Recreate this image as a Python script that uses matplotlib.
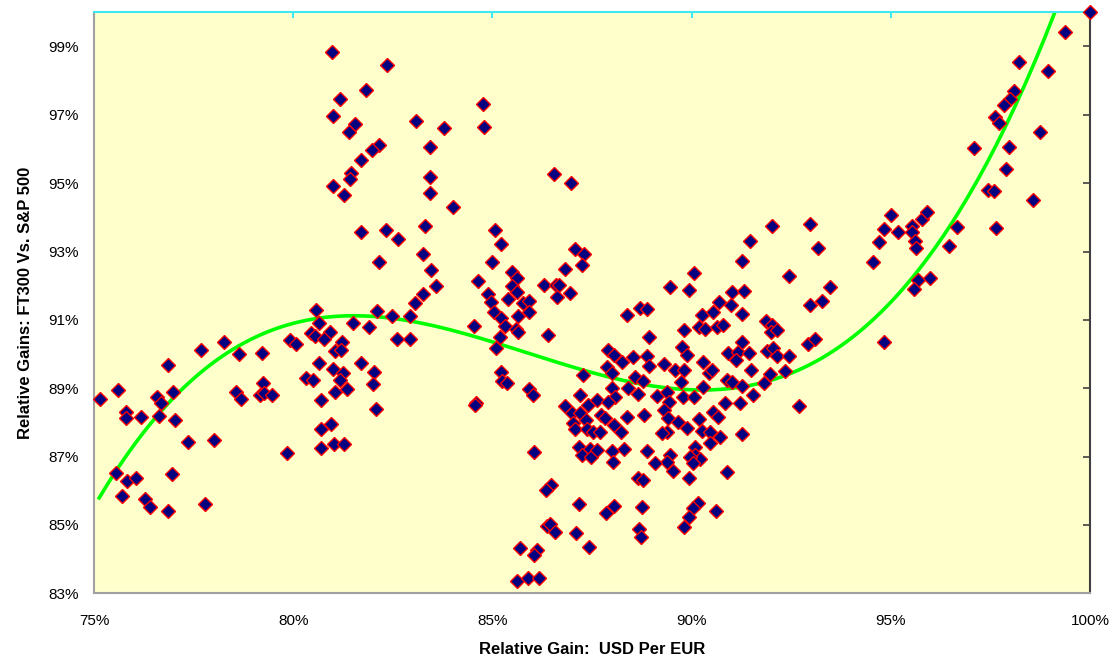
import numpy as np
import matplotlib
matplotlib.use('Agg')
import matplotlib.pyplot as plt
from matplotlib.ticker import FuncFormatter

plt.rcParams['font.family'] = ['Liberation Sans', 'DejaVu Sans']

# --------------------------------------------------------------------------
# Datos (en %)
# --------------------------------------------------------------------------

# Ganancia relativa USD por EUR (eje X)
usd_eur = [
    80.97, 81.00, 81.00,
    81.18, 82.35, 81.83, 81.55, 81.40, 83.08, 83.78, 84.76, 84.79, 82.15, 81.98,
    83.43, 81.70, 81.45, 81.43, 81.28, 83.43, 83.43, 84.01, 86.55, 86.97, 81.70,
    82.33, 82.63, 83.31, 82.15, 83.26, 83.46, 83.58, 83.26, 83.06, 85.07, 85.22,
    84.99, 84.64, 84.89, 84.96, 85.49, 85.62, 85.49, 85.62, 85.39, 85.77, 85.92,
    86.30, 86.60, 86.67, 86.62, 86.95, 86.82, 87.07, 87.30, 87.25,
    92.02, 92.97, 91.47, 93.17, 91.27, 92.45, 90.06, 89.46, 89.93, 91.01, 91.32,
    93.47,
    100.0, 99.37, 98.22, 98.95, 98.09, 97.99, 97.84, 97.62, 97.72, 98.75, 97.09,
    97.97, 97.89, 97.44, 97.59, 98.57, 95.00, 94.83, 95.18, 94.70, 95.53, 95.53,
    95.61, 95.63, 95.78, 95.91, 96.66, 97.64, 96.46, 94.55, 95.68, 95.58, 95.98,
    94.83,
    80.57, 80.65, 80.45, 80.55, 80.92, 80.77, 81.22, 81.05, 81.20, 78.26, 77.69,
    78.64, 79.22, 79.92, 80.07, 76.86, 80.65, 81.00, 81.25, 81.17, 80.32, 80.50,
    75.15, 75.60, 76.58, 76.68, 76.98, 75.80, 75.80, 76.18, 76.63, 77.03, 78.56,
    78.69, 79.24, 79.17, 79.27, 79.47, 80.70, 81.05, 77.36, 78.01, 79.84, 80.70,
    80.95, 80.70, 81.02, 81.27, 75.55, 75.83, 76.05, 76.96, 75.70, 76.28, 76.41,
    76.86, 77.79,
    82.10, 82.48, 82.93, 81.90, 81.50, 82.61, 82.93, 81.70, 82.03, 82.00, 81.35,
    82.08, 84.54, 85.04, 85.92, 85.64, 85.22, 85.32, 85.59, 85.64, 86.40, 85.19,
    85.09, 85.22, 85.24, 85.37, 85.92, 86.02, 84.59, 84.56, 87.27, 87.20, 87.40,
    86.82, 87.00, 87.20, 87.35, 87.02, 87.07, 87.37, 87.52, 87.17, 87.45, 87.25,
    87.47, 86.04, 86.47, 86.35, 87.17, 86.37, 86.45, 86.57, 87.10, 87.42, 85.69,
    86.12, 86.04, 85.62, 85.89, 86.17,
    88.38, 88.70, 88.88, 88.93, 89.81, 90.26, 90.19, 90.34, 90.54, 90.69, 90.99,
    91.27, 90.64, 90.79, 91.87, 92.02, 91.99, 92.14, 92.97, 93.27, 92.92, 93.10,
    87.90, 88.05, 88.25, 88.53, 88.88, 88.93, 89.31, 89.76, 89.88, 89.58, 89.81,
    90.29, 90.44, 90.51, 90.91, 91.16, 91.27, 91.44, 91.11, 91.89, 92.04, 92.14,
    92.44, 91.49, 91.97, 92.34, 87.88, 88.00, 88.58, 88.78, 88.40, 88.65, 89.13,
    89.38, 89.73, 89.78, 90.06, 90.29, 90.89, 91.01, 91.27, 91.54, 91.82, 88.00,
    88.08, 87.63, 87.90, 89.43, 89.31, 88.80, 88.38, 89.41, 87.73, 87.83, 88.05,
    88.23, 87.70, 89.66, 89.88, 90.19, 90.54, 90.66, 90.26, 90.46, 89.38, 89.26,
    90.84, 91.21, 90.71, 90.46, 91.27, 92.70, 90.09, 90.09, 90.21, 89.96, 88.88,
    88.30, 88.00, 88.03, 87.63, 89.46, 89.38, 89.08, 89.53, 90.04, 90.89, 89.93,
    88.65, 88.78, 88.05, 87.85, 88.75, 90.16, 90.04, 89.93, 89.81, 90.61, 88.68,
    88.73,
]

# Ganancia relativa FT300 vs S&P 500 (eje Y)
ft300_sp500 = [
    98.85, 96.97, 94.91,
    97.47, 98.47, 97.74, 96.74, 96.50, 96.82, 96.62, 97.32, 96.64, 96.12, 95.97,
    96.06, 95.68, 95.29, 95.12, 94.65, 95.18, 94.71, 94.30, 95.26, 95.00, 93.56,
    93.64, 93.38, 93.76, 92.70, 92.93, 92.47, 92.00, 91.76, 91.50, 93.64, 93.23,
    92.70, 92.15, 91.76, 91.53, 92.41, 92.23, 92.00, 91.82, 91.62, 91.50, 91.56,
    92.03, 92.03, 92.03, 91.68, 91.79, 92.50, 93.06, 92.94, 92.62,
    93.75, 93.81, 93.31, 93.09, 92.73, 92.29, 92.37, 91.96, 91.87, 91.82, 91.85,
    91.97,
    100.0, 99.41, 98.55, 98.28, 97.70, 97.47, 97.30, 96.94, 96.77, 96.50, 96.03,
    96.06, 95.41, 94.80, 94.77, 94.50, 94.06, 93.65, 93.56, 93.27, 93.74, 93.56,
    93.30, 93.10, 93.95, 94.16, 93.72, 93.69, 93.16, 92.69, 92.16, 91.90, 92.22,
    90.36,
    91.29, 90.91, 90.62, 90.53, 90.65, 90.44, 90.35, 90.09, 90.12, 90.35, 90.12,
    90.00, 90.03, 90.41, 90.29, 89.68, 89.74, 89.56, 89.44, 89.24, 89.30, 89.24,
    88.69, 88.95, 88.74, 88.56, 88.89, 88.30, 88.12, 88.15, 88.20, 88.06, 88.89,
    88.68, 89.15, 88.80, 88.86, 88.80, 88.66, 88.89, 87.43, 87.49, 87.11, 87.81,
    87.96, 87.25, 87.37, 87.37, 86.52, 86.29, 86.37, 86.49, 85.85, 85.76, 85.53,
    85.41, 85.62,
    91.26, 91.12, 91.12, 90.80, 90.92, 90.45, 90.45, 89.74, 89.47, 89.12, 88.98,
    88.39, 90.83, 91.23, 91.23, 91.12, 91.06, 90.83, 90.74, 90.65, 90.56, 90.50,
    90.18, 89.48, 89.21, 89.15, 88.98, 88.80, 88.57, 88.51, 89.39, 88.80, 88.51,
    88.48, 88.27, 88.27, 88.07, 87.98, 87.80, 87.80, 87.72, 87.28, 87.22, 87.05,
    86.99, 87.13, 86.17, 86.02, 85.61, 84.97, 85.03, 84.80, 84.77, 84.36, 84.33,
    84.27, 84.12, 83.36, 83.45, 83.45,
    91.14, 91.35, 91.32, 90.50, 90.70, 91.14, 90.79, 90.74, 91.23, 91.53, 91.44,
    91.17, 90.79, 90.85, 90.97, 90.85, 90.65, 90.71, 91.44, 91.56, 90.30, 90.44,
    90.12, 89.98, 89.77, 89.92, 89.95, 89.65, 89.71, 90.21, 89.98, 89.53, 89.53,
    89.77, 89.45, 89.53, 90.03, 90.06, 90.35, 90.03, 89.83, 90.09, 90.18, 89.94,
    89.94, 89.53, 89.42, 89.50, 89.62, 89.45, 89.33, 89.21, 89.00, 88.83, 88.77,
    88.89, 89.18, 88.74, 88.74, 89.04, 89.24, 89.18, 89.07, 88.80, 89.15, 89.00,
    88.74, 88.66, 88.60, 88.60, 88.36, 88.21, 88.16, 88.13, 88.21, 88.13, 87.92,
    87.72, 87.72, 88.02, 87.84, 88.10, 88.31, 88.16, 87.75, 87.72, 87.72, 87.70,
    88.57, 88.57, 87.57, 87.40, 87.66, 88.48, 87.28, 87.05, 86.93, 86.99, 87.16,
    87.22, 87.16, 86.84, 87.19, 87.05, 86.84, 86.81, 86.58, 86.81, 86.55, 86.37,
    86.37, 86.31, 85.55, 85.35, 85.52, 85.64, 85.50, 85.23, 84.94, 85.41, 84.88,
    84.65,
]

# Linea de tendencia (polinomica), puntos leidos sobre la curva verde
trend_x = [75.13, 75.73, 76.58, 77.59, 78.49, 79.24, 80.10, 81.10, 82.50, 83.61,
           85.02, 86.19, 87.58, 88.70, 89.96, 91.14, 92.47, 93.85, 94.93, 95.73,
           96.56, 97.24, 97.74, 98.42, 99.12]
trend_y = [85.76, 86.90, 88.22, 89.42, 90.12, 90.56, 90.91, 91.08, 91.05, 90.85,
           90.35, 89.92, 89.45, 89.10, 88.95, 89.01, 89.45, 90.32, 91.47, 92.46,
           93.84, 95.30, 96.35, 98.02, 100.0]

x_ticks = [75, 80, 85, 90, 95, 100]
y_ticks = [83, 85, 87, 89, 91, 93, 95, 97, 99]

# --------------------------------------------------------------------------
# Grafico
# --------------------------------------------------------------------------

fig = plt.figure(figsize=(11.14, 6.62), dpi=100)
ax = fig.add_axes([0.0844, 0.1038, 0.8941, 0.8776])
ax.set_facecolor('#FFFFCC')

ax.plot(usd_eur, ft300_sp500, linestyle='none', marker='D', markersize=7,
        markerfacecolor='#000080', markeredgecolor='red', markeredgewidth=1.0,
        zorder=3, clip_on=False)

# suavizamos la curva de tendencia con un polinomio sobre los puntos leidos
coef = np.polyfit(trend_x, trend_y, 5)
xs = np.linspace(trend_x[0], trend_x[-1] + 0.1, 200)
ax.plot(xs, np.polyval(coef, xs), color='#00FF00', linewidth=2.6, zorder=2)

ax.set_xlim(75, 100)
ax.set_ylim(83, 100)
ax.set_xticks(x_ticks)
ax.set_yticks(y_ticks)
ax.xaxis.set_major_formatter(FuncFormatter(lambda v, p: '%d%%' % v))
ax.yaxis.set_major_formatter(FuncFormatter(lambda v, p: '%d%%' % v))
ax.tick_params(axis='both', length=0, labelsize=11)
ax.tick_params(axis='x', pad=15)
ax.tick_params(axis='y', pad=11)

ax.spines['left'].set_color('#A0A0A0')
ax.spines['bottom'].set_color('#A0A0A0')
ax.spines['left'].set_linewidth(1.5)
ax.spines['bottom'].set_linewidth(1.5)
ax.spines['top'].set_color('#40E8F0')
ax.spines['top'].set_linewidth(1.5)
ax.spines['right'].set_color('#404040')
ax.spines['right'].set_linewidth(1.5)

# ejes secundarios sin etiquetas (arriba y derecha)
ax_top = ax.secondary_xaxis('top')
ax_top.set_xticks(x_ticks)
ax_top.tick_params(direction='in', length=4, color='#40E8F0', width=1.5, labeltop=False)
ax_top.spines['top'].set_visible(False)
ax_right = ax.secondary_yaxis('right')
ax_right.set_yticks(y_ticks)
ax_right.tick_params(direction='in', length=5, color='#404040', width=1.2, labelright=False)
ax_right.spines['right'].set_visible(False)

ax.set_xlabel('Relative Gain:  USD Per EUR', fontsize=12, fontweight='bold', labelpad=10)
ax.set_ylabel('Relative Gains: FT300 Vs. S&P 500', fontsize=12, fontweight='bold', labelpad=11)

fig.savefig('out.png', dpi=100)
